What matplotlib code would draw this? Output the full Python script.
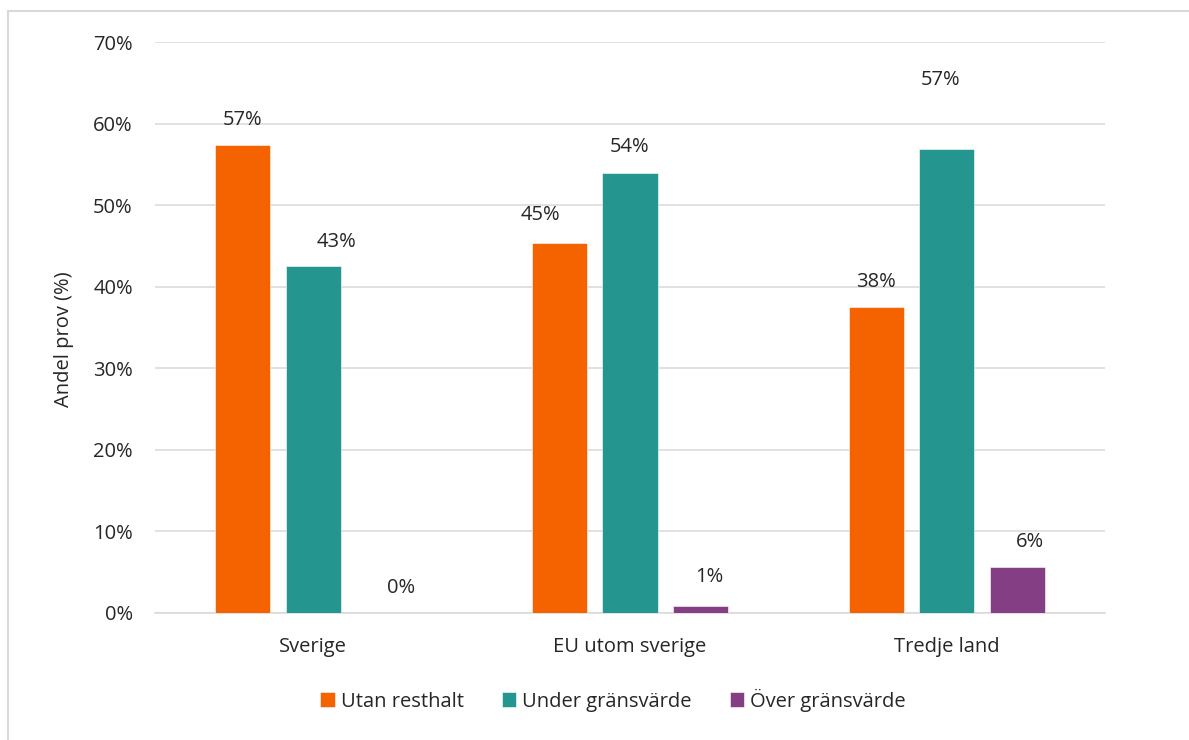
import matplotlib.pyplot as plt
from matplotlib.lines import Line2D
import numpy as np

plt.rcParams['font.family'] = ['Open Sans', 'DejaVu Sans']

categories = ["Sverige", "EU utom sverige", "Tredje land"]
series = ["Utan resthalt", "Under gränsvärde", "Över gränsvärde"]
utan = [57.4, 45.4, 37.5]
under = [42.6, 53.9, 56.9]
over = [0.0, 0.9, 5.6]
labels = [["57%", "45%", "38%"], ["43%", "54%", "57%"], ["0%", "1%", "6%"]]
colors = ["#F46300", "#259590", "#843F84"]

# label nudges in pixels (dx, dy above bar top), as placed in the original
label_dx = [[0, -19, 0], [23, 0, -6], [17, 9, 13]]
label_dy = [[25, 28, 25], [24, 26, 69], [25, 29, 25]]

text_color = "#262626"
grid_color = "#D9D9D9"
fs = 14.5

fig = plt.figure(figsize=(11.89, 7.40), dpi=100)
ax = fig.add_axes([155/1189, 1 - 613/740, (1105-155)/1189, (613-42)/740])

x = np.arange(len(categories))
step = 0.2226
width = 0.174
values = [utan, under, over]
for i, (name, vals) in enumerate(zip(series, values)):
    pos = x + (i - 1) * step
    ax.bar(pos, vals, width, color=colors[i], label=name, zorder=3,
           edgecolor="white", linewidth=0.4)
    for j, v in enumerate(vals):
        ax.annotate(labels[i][j], (pos[j], v),
                    xytext=(label_dx[i][j], label_dy[i][j]),
                    textcoords="offset pixels", ha="center", va="center",
                    fontsize=fs, color=text_color)

ax.set_xlim(-0.5, 2.5)
ax.set_ylim(0, 70)
ax.set_yticks(range(0, 71, 10))
ax.set_yticklabels([f"{t}%" for t in range(0, 71, 10)])
ax.set_xticks(x)
ax.set_xticklabels(categories)
ax.tick_params(axis="both", length=0, labelsize=fs, colors=text_color)
ax.tick_params(axis="y", pad=16)
ax.tick_params(axis="x", pad=17)
ax.grid(axis="y", color=grid_color, linewidth=1.1, zorder=0)
for s in ["top", "right", "left"]:
    ax.spines[s].set_visible(False)
ax.spines["bottom"].set_color(grid_color)
ax.spines["bottom"].set_linewidth(1.1)

ax.set_ylabel("Andel prov (%)", fontsize=fs, color=text_color)
ax.yaxis.set_label_coords(-81/950, 0.48)

fig.legend(loc="center", bbox_to_anchor=(613/1189, 1 - 700/740), ncol=3,
           frameon=False, fontsize=fs, handlelength=0.7, handleheight=0.7,
           handletextpad=0.3, columnspacing=1.9, labelcolor=text_color)

# chart frame (only left and top edges are visible in the crop)
fig.add_artist(Line2D([7.5/1189, 7.5/1189], [0, 1 - 11/740], color=grid_color, linewidth=1.5))
fig.add_artist(Line2D([7.5/1189, 1], [1 - 11/740, 1 - 11/740], color=grid_color, linewidth=1.5))

fig.savefig("out.png", dpi=100)
